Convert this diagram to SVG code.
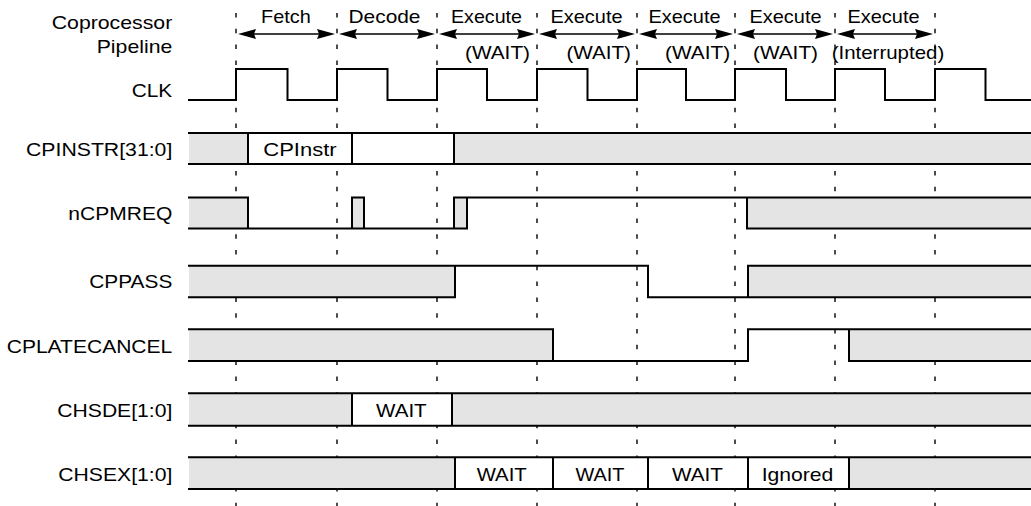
<svg xmlns="http://www.w3.org/2000/svg" xmlns:xlink="http://www.w3.org/1999/xlink" width="1031" height="506" viewBox="0 0 1031 506">
<defs>
<style>
text{font-family:"Liberation Sans",Arial,Helvetica,sans-serif;font-size:19px;fill:#000}
.grid{stroke:#000;stroke-width:1.4;stroke-dasharray:4.5 11.3;fill:none}
.sig{stroke:#000;stroke-width:2;fill:none;stroke-linecap:square}
.g{fill:#e4e4e4;stroke:none}
.w{fill:#fff;stroke:none}
.arr{stroke:#000;stroke-width:1.5;fill:none}
</style>
<path id="hl" d="M0,0 L18,-5 L16,0 L18,5 Z" fill="#000"/>
<path id="hr" d="M0,0 L-18,-5 L-16,0 L-18,5 Z" fill="#000"/>
</defs>
<rect width="1031" height="506" fill="#fff"/>

<g id="gridlines">
<line class="grid" x1="236" y1="13" x2="236" y2="506"/>
<line class="grid" x1="337" y1="13" x2="337" y2="506"/>
<line class="grid" x1="437" y1="13" x2="437" y2="506"/>
<line class="grid" x1="537" y1="13" x2="537" y2="506"/>
<line class="grid" x1="637" y1="13" x2="637" y2="506"/>
<line class="grid" x1="735" y1="13" x2="735" y2="506"/>
<line class="grid" x1="835" y1="13" x2="835" y2="506"/>
<line class="grid" x1="935" y1="13" x2="935" y2="506"/>
</g>

<g id="pipeline">
<text x="51.7" y="29" textLength="120.6" lengthAdjust="spacingAndGlyphs">Coprocessor</text>
<text x="96.7" y="52.5" textLength="75.6" lengthAdjust="spacingAndGlyphs">Pipeline</text>
<text x="261" y="22.7" textLength="49.7" lengthAdjust="spacingAndGlyphs">Fetch</text>
<text x="348.5" y="22.7" textLength="72" lengthAdjust="spacingAndGlyphs">Decode</text>
<text x="451" y="22.7" textLength="71" lengthAdjust="spacingAndGlyphs">Execute</text>
<text x="550.5" y="22.7" textLength="72" lengthAdjust="spacingAndGlyphs">Execute</text>
<text x="648.5" y="22.7" textLength="72" lengthAdjust="spacingAndGlyphs">Execute</text>
<text x="749.5" y="22.7" textLength="72" lengthAdjust="spacingAndGlyphs">Execute</text>
<text x="847.5" y="22.7" textLength="72" lengthAdjust="spacingAndGlyphs">Execute</text>
<text x="465" y="59" textLength="65" lengthAdjust="spacingAndGlyphs">(WAIT)</text>
<text x="566.4" y="59" textLength="64.5" lengthAdjust="spacingAndGlyphs">(WAIT)</text>
<text x="665.1" y="59" textLength="65" lengthAdjust="spacingAndGlyphs">(WAIT)</text>
<text x="753" y="59" textLength="65" lengthAdjust="spacingAndGlyphs">(WAIT)</text>
<text x="831.7" y="59" textLength="112.5" lengthAdjust="spacingAndGlyphs">(Interrupted)</text>
</g>

<g id="connectors">
<path class="arr" d="M250,34 H323 M351,34 H423 M451,34 H523 M551,34 H623 M651,34 H721 M749,34 H821 M849,34 H921"/>
<use xlink:href="#hl" x="238" y="34"/><use xlink:href="#hr" x="335" y="34"/>
<use xlink:href="#hl" x="339" y="34"/><use xlink:href="#hr" x="435" y="34"/>
<use xlink:href="#hl" x="439" y="34"/><use xlink:href="#hr" x="535" y="34"/>
<use xlink:href="#hl" x="539" y="34"/><use xlink:href="#hr" x="635" y="34"/>
<use xlink:href="#hl" x="639" y="34"/><use xlink:href="#hr" x="733" y="34"/>
<use xlink:href="#hl" x="737" y="34"/><use xlink:href="#hr" x="833" y="34"/>
<use xlink:href="#hl" x="837" y="34"/><use xlink:href="#hr" x="933" y="34"/>
</g>

<g id="clk">
<text x="131.7" y="96.5" textLength="40.6" lengthAdjust="spacingAndGlyphs">CLK</text>
<path class="sig" d="M189,100 H236 V69 H287.5 V100 H337 V69 H387.5 V100 H437 V69 H487 V100 H537 V69 H587.5 V100 H637 V69 H686 V100 H735 V69 H786 V100 H835 V69 H885 V100 H935 V69 H985.5 V100 H1031"/>
</g>

<g id="cpinstr">
<text x="26" y="155.6" textLength="146.3" lengthAdjust="spacingAndGlyphs">CPINSTR[31:0]</text>
<rect class="g" x="189" y="133" width="59" height="31"/>
<rect class="w" x="248" y="133" width="206" height="31"/>
<rect class="g" x="454" y="133" width="577" height="31"/>
<path class="sig" d="M189,133 H1031 M189,164 H1031 M248,133 V164 M352,133 V164 M454,133 V164"/>
<text x="263.3" y="155.6" textLength="73.4" lengthAdjust="spacingAndGlyphs">CPInstr</text>
</g>

<g id="ncpmreq">
<text x="68.3" y="220" textLength="104" lengthAdjust="spacingAndGlyphs">nCPMREQ</text>
<rect class="g" x="189" y="197.5" width="59" height="31"/>
<rect class="g" x="352" y="197.5" width="12" height="31"/>
<rect class="g" x="454" y="197.5" width="13" height="31"/>
<rect class="g" x="747" y="197.5" width="284" height="31"/>
<path class="sig" d="M189,197.5 H248 V228.5 M189,228.5 H467 M352,228.5 V197.5 H364 V228.5 M454,228.5 V197.5 H1031 M467,197.5 V228.5 M747,197.5 V228.5 H1031"/>
</g>

<g id="cppass">
<text x="89.3" y="288" textLength="83" lengthAdjust="spacingAndGlyphs">CPPASS</text>
<rect class="g" x="189" y="265.7" width="266" height="31.6"/>
<rect class="g" x="748" y="265.7" width="283" height="31.6"/>
<path class="sig" d="M189,265.7 H648 V297.3 H1031 M189,297.3 H455 V265.7 M748,297.3 V265.7 H1031"/>
</g>

<g id="cplatecancel">
<text x="6.7" y="352.5" textLength="165.6" lengthAdjust="spacingAndGlyphs">CPLATECANCEL</text>
<rect class="g" x="189" y="329.3" width="364" height="31.7"/>
<rect class="g" x="849" y="329.3" width="182" height="31.7"/>
<path class="sig" d="M189,329.3 H553 V361 M189,361 H748 V329.3 H1031 M849,329.3 V361 H1031"/>
</g>

<g id="chsde">
<text x="57.3" y="416.5" textLength="115" lengthAdjust="spacingAndGlyphs">CHSDE[1:0]</text>
<rect class="g" x="189" y="393.3" width="163" height="32.4"/>
<rect class="w" x="352" y="393.3" width="100" height="32.4"/>
<rect class="g" x="452" y="393.3" width="579" height="32.4"/>
<path class="sig" d="M189,393.3 H1031 M189,425.7 H1031 M352,393.3 V425.7 M452,393.3 V425.7"/>
<text x="376" y="416.5" textLength="50.7" lengthAdjust="spacingAndGlyphs">WAIT</text>
</g>

<g id="chsex">
<text x="58.3" y="480.5" textLength="114" lengthAdjust="spacingAndGlyphs">CHSEX[1:0]</text>
<rect class="g" x="189" y="457.3" width="266" height="31.7"/>
<rect class="w" x="455" y="457.3" width="394" height="31.7"/>
<rect class="g" x="849" y="457.3" width="182" height="31.7"/>
<path class="sig" d="M189,457.3 H1031 M189,489 H1031 M455,457.3 V489 M553,457.3 V489 M648,457.3 V489 M748,457.3 V489 M849,457.3 V489"/>
<text x="476.7" y="480.5" textLength="50" lengthAdjust="spacingAndGlyphs">WAIT</text>
<text x="575.5" y="480.5" textLength="49" lengthAdjust="spacingAndGlyphs">WAIT</text>
<text x="672" y="480.5" textLength="51" lengthAdjust="spacingAndGlyphs">WAIT</text>
<text x="761.7" y="480.5" textLength="71.7" lengthAdjust="spacingAndGlyphs">Ignored</text>
</g>
</svg>
